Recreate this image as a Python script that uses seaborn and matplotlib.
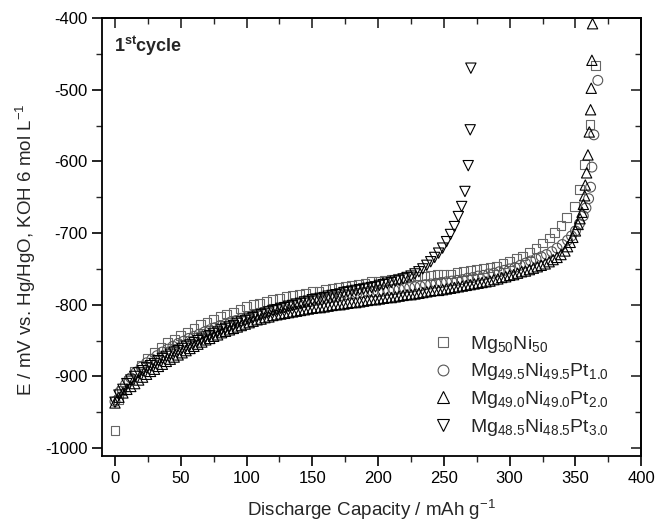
import numpy as np
import pandas as pd
import matplotlib
matplotlib.use("Agg")
import matplotlib.pyplot as plt
from matplotlib.lines import Line2D
from matplotlib.ticker import MultipleLocator
import seaborn as sns

# ---------------- data ----------------
labels = [r"Mg$_{50}$Ni$_{50}$",
          r"Mg$_{49.5}$Ni$_{49.5}$Pt$_{1.0}$",
          r"Mg$_{49.0}$Ni$_{49.0}$Pt$_{2.0}$",
          r"Mg$_{48.5}$Ni$_{48.5}$Pt$_{3.0}$"]

x_sq = [0, 2.5, 5, 10, 15, 20, 25, 30, 35, 40, 45, 50, 55, 60, 65, 70, 75, 80, 85, 90,
        95, 100, 105, 110, 115, 120, 125, 130, 135, 140, 145, 150, 155, 160, 165, 170,
        175, 180, 185, 190, 195, 200, 205, 210, 215, 220, 225, 230, 235, 240, 245, 250,
        255, 260, 265, 270, 275, 280, 285, 290, 295, 300, 305, 310, 315, 320, 325, 330,
        334, 339, 343, 349, 353, 357, 361, 365]
y_sq = [-975, -932, -920, -905, -893, -884, -875, -866, -860, -853, -848, -843, -838, -833,
        -828, -824, -820, -816, -813, -810, -806, -803, -800, -798, -795, -793, -791, -789,
        -787, -785, -784, -782, -781, -779, -777, -776, -774, -773, -771, -770, -768, -767,
        -766, -765, -763, -762, -761, -760, -760, -759, -758, -757, -757, -755, -754, -752,
        -751, -749, -748, -746, -743, -740, -736, -732, -727, -722, -714, -707, -699, -689,
        -678, -663, -639, -604, -549, -466]

x_ci = [0, 4, 8, 12, 16, 20, 24, 28, 32, 36, 40, 44, 48, 52, 56, 60, 64, 68, 72, 76, 80,
        84, 88, 92, 96, 100, 104, 108, 112, 116, 120, 124, 128, 132, 136, 140, 144, 148,
        152, 156, 160, 164, 168, 172, 176, 180, 184, 188, 192, 196, 200, 204, 208, 212,
        216, 220, 224, 228, 232, 236, 240, 244, 248, 252, 256, 260, 264, 268, 272, 276,
        280, 284, 288, 292, 296, 300, 304, 308, 312, 316, 320, 324, 328, 332, 336, 340,
        344, 347, 350, 353, 356, 358, 360, 361.5, 362.5, 364, 367]
y_ci = [-935, -921, -911, -902, -894, -887, -881, -876, -871, -866, -862, -858, -854, -851,
        -847, -844, -841, -838, -835, -832, -829, -827, -824, -822, -819, -817, -815, -813,
        -811, -809, -807, -805, -804, -802, -800, -799, -797, -796, -794, -793, -791, -790,
        -789, -787, -786, -785, -784, -783, -782, -782, -782, -781, -780, -779, -778, -777,
        -776, -775, -774, -772, -771, -770, -769, -768, -767, -766, -765, -763, -762, -760,
        -759, -757, -756, -754, -752, -750, -748, -745, -742, -739, -736, -733, -730, -726,
        -721, -716, -710, -704, -697, -687, -676, -665, -652, -636, -608, -563, -487]

x_up = [0, 3, 6, 9, 12, 15, 18, 21, 24, 27, 30, 33, 36, 39, 42, 45, 48, 51, 54, 57, 60, 63,
        66, 69, 72, 75, 78, 81, 84, 87, 90, 93, 96, 99, 102, 105, 108, 111, 114, 117, 120,
        123, 126, 129, 132, 135, 138, 141, 144, 147, 150, 153, 156, 159, 162, 165, 168,
        171, 174, 177, 180, 183, 186, 189, 192, 195, 198, 201, 204, 207, 210, 213, 216,
        219, 222, 225, 228, 231, 234, 237, 240, 243, 246, 249, 252, 255, 258, 261, 264,
        267, 270, 273, 276, 279, 282, 285, 288, 291, 294, 297, 300, 303, 306, 309, 312,
        315, 318, 321, 324, 327, 330, 333, 336, 339, 342, 344, 346, 348, 350, 352, 353.5,
        355, 356, 357, 357.5, 358.5, 359.5, 360.5, 361.5, 362, 362.5, 363]
y_up = [-937, -929, -923, -918, -914, -910, -905, -901, -897, -893, -890, -886, -883, -879,
        -876, -873, -870, -867, -864, -861, -858, -855, -852, -849, -847, -844, -842, -839,
        -837, -835, -833, -831, -829, -827, -825, -823, -821, -820, -818, -817, -815, -814,
        -813, -812, -811, -810, -809, -808, -807, -806, -805, -804, -804, -803, -802, -801,
        -800, -800, -799, -798, -797, -797, -796, -795, -794, -793, -793, -792, -791, -790,
        -790, -789, -788, -787, -786, -786, -785, -784, -783, -782, -781, -780, -780, -779,
        -778, -777, -776, -775, -774, -773, -772, -771, -770, -769, -768, -767, -765, -764,
        -762, -761, -759, -758, -756, -754, -753, -751, -749, -747, -745, -743, -740, -737,
        -734, -730, -725, -719, -713, -706, -697, -688, -680, -671, -660, -648, -633, -616,
        -591, -559, -528, -498, -459, -408]

x_dn = [0, 3, 6, 9, 12, 15, 18, 21, 24, 27, 30, 33, 36, 39, 42, 45, 48, 51, 54, 57, 60, 63,
        66, 69, 72, 75, 78, 81, 84, 87, 90, 93, 96, 99, 102, 105, 108, 111, 114, 117, 120,
        123, 126, 129, 132, 135, 138, 141, 144, 147, 150, 153, 156, 159, 162, 165, 168,
        171, 174, 177, 180, 183, 186, 189, 192, 195, 198, 201, 204, 207, 210, 213, 216,
        219, 222, 225, 228, 231, 234, 237, 240, 243, 246, 249, 252, 255, 258, 261, 263.5,
        266, 268.5, 270, 270.5]
y_dn = [-936, -926, -918, -910, -905, -900, -895, -892, -888, -885, -882, -878, -875, -872,
        -869, -866, -864, -861, -858, -856, -853, -850, -848, -845, -843, -840, -838, -835,
        -833, -831, -829, -826, -824, -822, -820, -818, -816, -814, -812, -810, -808, -807,
        -805, -804, -802, -801, -799, -798, -796, -795, -793, -792, -791, -790, -788, -787,
        -786, -785, -783, -782, -781, -780, -779, -778, -777, -776, -775, -773, -772, -770,
        -769, -767, -766, -764, -762, -760, -757, -754, -750, -745, -740, -734, -728, -721,
        -712, -702, -691, -677, -663, -642, -606, -556, -470]

x_ticks = [0, 50, 100, 150, 200, 250, 300, 350, 400]
y_ticks = [-1000, -900, -800, -700, -600, -500, -400]

# ---------------- style ----------------
sns.set_style("ticks")
plt.rcParams["font.family"] = ["Liberation Sans", "DejaVu Sans"]
plt.rcParams["mathtext.fontset"] = "custom"
plt.rcParams["mathtext.rm"] = "Liberation Sans"
plt.rcParams["mathtext.it"] = "Liberation Sans:italic"
plt.rcParams["mathtext.bf"] = "Liberation Sans:bold"
plt.rcParams["axes.unicode_minus"] = False

fig = plt.figure(figsize=(6.57, 5.29), dpi=100)
ax = fig.add_axes([0.155, 0.138, 0.821, 0.828])

series = [
    (x_sq, y_sq, "s", 40, "#666666"),
    (x_ci, y_ci, "o", 50, "#555555"),
    (x_up, y_up, "^", 55, "#000000"),
    (x_dn, y_dn, "v", 55, "#000000"),
]
for (xs, ys, mk, sz, col), lab in zip(series, labels):
    df = pd.DataFrame({"x": xs, "y": ys})
    sns.scatterplot(data=df, x="x", y="y", marker=mk, s=sz, facecolor="none",
                    edgecolor=col, linewidth=0.8, ax=ax, legend=False)

ax.set_xlim(-10, 400)
ax.set_ylim(-1011, -400)
ax.set_xticks(x_ticks)
ax.set_yticks(y_ticks)
ax.xaxis.set_minor_locator(MultipleLocator(25))
ax.yaxis.set_minor_locator(MultipleLocator(50))
ax.tick_params(axis="both", which="major", direction="out", length=7, width=1.2,
               labelsize=12, colors="black")
ax.tick_params(axis="both", which="minor", direction="out", length=4, width=1.0)
for sp in ax.spines.values():
    sp.set_linewidth(1.3)
    sp.set_color("black")

# inward ticks on top and right
secx = ax.secondary_xaxis("top")
secx.set_xticks(x_ticks)
secx.xaxis.set_minor_locator(MultipleLocator(25))
secx.tick_params(which="major", direction="in", length=7, width=1.2, labeltop=False)
secx.tick_params(which="minor", direction="in", length=4, width=1.0)
secy = ax.secondary_yaxis("right")
secy.set_yticks(y_ticks)
secy.yaxis.set_minor_locator(MultipleLocator(50))
secy.tick_params(which="major", direction="in", length=7, width=1.2, labelright=False)
secy.tick_params(which="minor", direction="in", length=4, width=1.0)
for s in (secx, secy):
    for sp in s.spines.values():
        sp.set_linewidth(1.3)

ax.set_xlabel(r"Discharge Capacity / mAh g$^{-1}$", fontsize=13.5, labelpad=9)
ax.set_ylabel(r"E / mV vs. Hg/HgO, KOH 6 mol L$^{-1}$", fontsize=13.5)
ax.yaxis.set_label_coords(-0.118, 0.47)

ax.text(-1, -448, r"$\mathbf{1^{st}cycle}$", fontsize=13, ha="left", va="baseline")

handles = [Line2D([], [], linestyle="none", marker=mk, markersize=np.sqrt(sz) * 1.1,
                  markerfacecolor="none", markeredgecolor=col, markeredgewidth=0.8)
           for (_, _, mk, sz, col) in series]
ax.legend(handles, labels, loc="lower right", bbox_to_anchor=(0.965, 0.01), frameon=False,
          fontsize=14, handletextpad=0.8, labelspacing=0.35, handlelength=1.2,
          borderaxespad=0.3)

fig.savefig("out.png", dpi=100)
